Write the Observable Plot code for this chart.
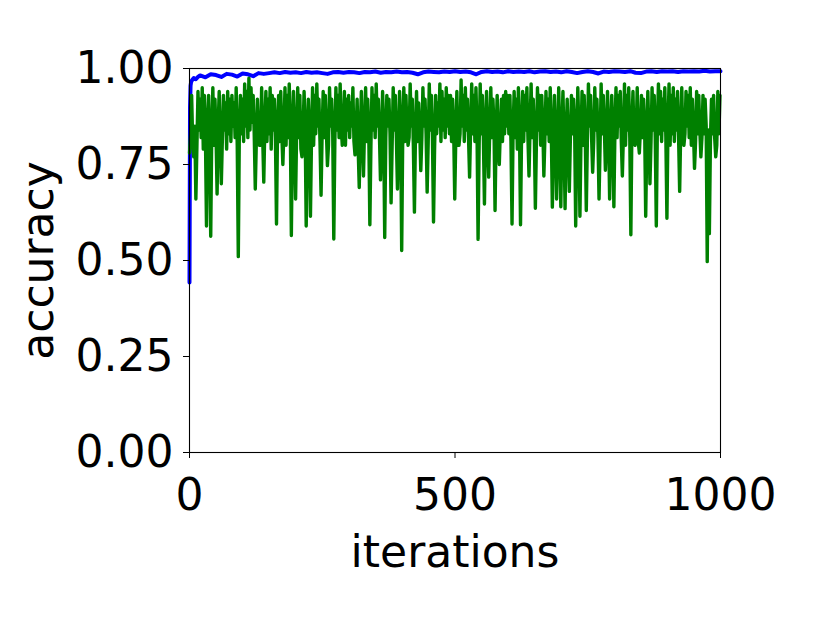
<!DOCTYPE html>
<html>
<head>
<meta charset="utf-8">
<script src="https://cdn.jsdelivr.net/npm/d3@7"></script>
<script src="https://cdn.jsdelivr.net/npm/@observablehq/plot@0.6"></script>
<style>
  html, body { margin: 0; padding: 0; background: #fff; }
</style>
</head>
<body>
<div id="chart"></div>
<script>
// Axis ticks
const xTicks = [0, 500, 1000];
const yTicks = [0, 0.25, 0.5, 0.75, 1.0];

// Blue series (training accuracy): early iterations listed explicitly
const blueEarlyIter = [0, 1, 2, 3, 5, 8, 12, 16];
const blueEarlyAcc  = [0.443, 0.90, 0.955, 0.965, 0.970, 0.975, 0.972, 0.978];
// then one reading every 10 iterations from 20 to 1000
const blueStart = 20, blueStep = 10;
const blueAcc = [
  0.982, 0.977, 0.985, 0.983, 0.978, 0.986, 0.984, 0.979, 0.987, 0.985, 0.980, 0.988, 0.986, 0.988,
  0.990, 0.988, 0.991, 0.989, 0.990, 0.988, 0.991, 0.989, 0.990, 0.988,
  0.986, 0.990, 0.991, 0.989, 0.991, 0.990, 0.988, 0.991, 0.990, 0.992,
  0.989, 0.991, 0.990, 0.992, 0.990, 0.991, 0.989, 0.985, 0.990, 0.992,
  0.991, 0.990, 0.992, 0.991, 0.993, 0.991, 0.992, 0.990, 0.985, 0.991,
  0.993, 0.991, 0.992, 0.990, 0.993, 0.991, 0.992, 0.991, 0.993, 0.990,
  0.992, 0.993, 0.991, 0.992, 0.990, 0.993, 0.991, 0.988, 0.991, 0.993,
  0.991, 0.987, 0.992, 0.991, 0.993, 0.992, 0.991, 0.993, 0.989, 0.988,
  0.992, 0.993, 0.991, 0.993, 0.992, 0.993, 0.991, 0.993, 0.992, 0.993,
  0.992, 0.994, 0.992, 0.993, 0.993
];

// Green series (validation accuracy): peaks and dips, evenly spaced over 0..999
const greenLastIter = 999;
const greenAcc = [
  0.78, 0.93, 0.77, 0.66, 0.94, 0.92, 0.95, 0.93, 0.59, 0.93,
  0.563, 0.95, 0.92, 0.673, 0.94, 0.70, 0.93, 0.91, 0.94, 0.92,
  0.93, 0.91, 0.95, 0.51, 0.93, 0.92, 0.96, 0.94, 0.975, 0.95,
  0.93, 0.686, 0.92, 0.80, 0.95, 0.704, 0.94, 0.92, 0.95, 0.93,
  0.92, 0.595, 0.93, 0.94, 0.75, 0.95, 0.93, 0.96, 0.565, 0.94,
  0.66, 0.95, 0.93, 0.77, 0.94, 0.59, 0.92, 0.615, 0.95, 0.93,
  0.96, 0.92, 0.67, 0.94, 0.93, 0.747, 0.95, 0.92, 0.556, 0.95,
  0.93, 0.96, 0.80, 0.94, 0.92, 0.93, 0.91, 0.95, 0.775, 0.92,
  0.69, 0.94, 0.72, 0.95, 0.92, 0.593, 0.95, 0.93, 0.96, 0.92,
  0.71, 0.94, 0.56, 0.93, 0.92, 0.65, 0.95, 0.93, 0.686, 0.94,
  0.526, 0.95, 0.93, 0.80, 0.96, 0.92, 0.626, 0.94, 0.91, 0.734,
  0.95, 0.92, 0.678, 0.96, 0.93, 0.60, 0.93, 0.91, 0.96, 0.94,
  0.92, 0.95, 0.93, 0.93, 0.92, 0.66, 0.94, 0.80, 0.97, 0.93,
  0.95, 0.92, 0.717, 0.96, 0.93, 0.95, 0.555, 0.96, 0.93, 0.647,
  0.94, 0.717, 0.95, 0.92, 0.63, 0.93, 0.75, 0.92, 0.93, 0.94,
  0.93, 0.93, 0.595, 0.94, 0.92, 0.95, 0.593, 0.94, 0.93, 0.95,
  0.72, 0.96, 0.92, 0.636, 0.95, 0.93, 0.93, 0.72, 0.94, 0.92,
  0.95, 0.639, 0.93, 0.66, 0.95, 0.64, 0.94, 0.635, 0.92, 0.68,
  0.93, 0.92, 0.59, 0.95, 0.615, 0.94, 0.93, 0.63, 0.96, 0.93,
  0.73, 0.95, 0.92, 0.66, 0.96, 0.93, 0.735, 0.94, 0.66, 0.93,
  0.64, 0.95, 0.93, 0.94, 0.72, 0.96, 0.93, 0.95, 0.567, 0.94,
  0.80, 0.95, 0.78, 0.93, 0.92, 0.615, 0.94, 0.70, 0.95, 0.93,
  0.59, 0.96, 0.94, 0.92, 0.95, 0.61, 0.96, 0.93, 0.95, 0.92,
  0.94, 0.68, 0.95, 0.80, 0.94, 0.93, 0.95, 0.92, 0.74, 0.94,
  0.93, 0.77, 0.93, 0.92, 0.497, 0.57, 0.92, 0.93, 0.77, 0.94,
  0.93
];
// Green readings in between the ones above (the lower edge of the dense band)
const greenBetween = [
  0.83, 0.81, 0.85, 0.80, 0.84, 0.82, 0.79, 0.83, 0.85, 0.81,
  0.84, 0.80, 0.83, 0.85, 0.81, 0.82, 0.84, 0.79, 0.83, 0.81,
  0.85, 0.82, 0.80, 0.84, 0.83, 0.81, 0.85, 0.82, 0.84, 0.86,
  0.83, 0.81, 0.84, 0.80, 0.82, 0.85, 0.81, 0.83, 0.79, 0.84,
  0.82, 0.85, 0.81, 0.83, 0.84, 0.80, 0.82, 0.85, 0.83, 0.81,
  0.84, 0.82, 0.79, 0.83, 0.85, 0.81, 0.84, 0.82, 0.80, 0.83,
  0.85, 0.81, 0.83, 0.82, 0.84, 0.80, 0.85, 0.83, 0.81, 0.84,
  0.82, 0.85, 0.83, 0.80, 0.84, 0.82, 0.85, 0.81, 0.83, 0.79,
  0.84, 0.82, 0.85, 0.81, 0.83, 0.80, 0.84, 0.82, 0.85, 0.83,
  0.81, 0.84, 0.82, 0.85, 0.83, 0.80, 0.84, 0.82, 0.81, 0.85,
  0.83, 0.81, 0.84, 0.82, 0.85, 0.80, 0.83, 0.81, 0.84, 0.82,
  0.85, 0.83, 0.81, 0.84, 0.82, 0.79, 0.83, 0.85, 0.81, 0.84,
  0.82, 0.85, 0.83, 0.81, 0.84, 0.82, 0.80, 0.83, 0.85, 0.81,
  0.84, 0.82, 0.85, 0.83, 0.81, 0.84, 0.80, 0.83, 0.82, 0.85,
  0.81, 0.84, 0.82, 0.85, 0.83, 0.80, 0.84, 0.81, 0.83, 0.85,
  0.83, 0.81, 0.84, 0.82, 0.79, 0.85, 0.83, 0.81, 0.84, 0.82,
  0.85, 0.82, 0.83, 0.81, 0.84, 0.80, 0.85, 0.82, 0.83, 0.81,
  0.84, 0.81, 0.83, 0.80, 0.82, 0.84, 0.81, 0.83, 0.79, 0.82,
  0.83, 0.85, 0.81, 0.84, 0.82, 0.80, 0.83, 0.81, 0.85, 0.82,
  0.81, 0.84, 0.82, 0.80, 0.83, 0.85, 0.81, 0.84, 0.82, 0.83,
  0.84, 0.82, 0.85, 0.81, 0.83, 0.80, 0.84, 0.82, 0.85, 0.81,
  0.83, 0.81, 0.84, 0.82, 0.85, 0.80, 0.83, 0.81, 0.84, 0.82,
  0.85, 0.83, 0.81, 0.84, 0.82, 0.85, 0.80, 0.83, 0.81, 0.84,
  0.82, 0.84, 0.81, 0.83, 0.85, 0.82, 0.80, 0.84, 0.81, 0.83,
  0.84, 0.82, 0.83, 0.85, 0.84, 0.81, 0.83, 0.82, 0.80, 0.83
];

// Build tables for the library
const blue = [
  ...blueEarlyIter.map((it, i) => ({iter: it, acc: blueEarlyAcc[i]})),
  ...blueAcc.map((a, i) => ({iter: blueStart + i * blueStep, acc: a}))
];
const gStep = greenLastIter / (greenAcc.length - 1);
const green = [
  ...greenAcc.map((a, i) => ({iter: i * gStep, acc: a})),
  ...greenBetween.map((a, i) => ({iter: (i + 0.5) * gStep, acc: a}))
].sort((p, q) => p.iter - q.iter);

const font = "'DejaVu Sans', sans-serif";

const chart = Plot.plot({
  width: 830,
  height: 623,
  marginLeft: 189,
  marginRight: 110,
  marginTop: 68,
  marginBottom: 171,
  style: {fontFamily: font, fontSize: "44px", color: "black", background: "white", overflow: "visible"},
  x: {domain: [0, 1000]},
  y: {domain: [0, 1]},
  marks: [
    Plot.line(blue, {x: "iter", y: "acc", stroke: "#0000ff", strokeWidth: 4}),
    Plot.line(green, {x: "iter", y: "acc", stroke: "#008000", strokeWidth: 3.4}),
    Plot.frame({stroke: "black", strokeWidth: 1.1}),
    Plot.axisX({ticks: xTicks, tickFormat: d3.format("d"), tickSize: 6, tickPadding: 20, fontSize: 44, stroke: "black",
      label: "iterations", labelArrow: "none", labelAnchor: "center", labelOffset: 114}),
    Plot.axisY({ticks: yTicks, tickFormat: d3.format(".2f"), tickSize: 6, tickPadding: 10, fontSize: 44, stroke: "black",
      label: "accuracy", labelArrow: "none", labelAnchor: "center", labelOffset: 168})
  ]
});
document.getElementById("chart").appendChild(chart);
</script>
</body>
</html>
